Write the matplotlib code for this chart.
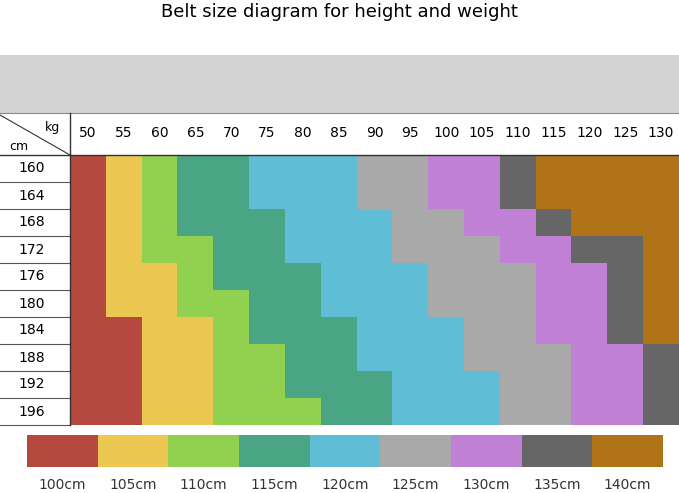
import matplotlib
matplotlib.use("Agg")
import matplotlib.pyplot as plt
import numpy as np
from matplotlib.colors import ListedColormap

weights = [50,55,60,65,70,75,80,85,90,95,100,105,110,115,120,125,130]
heights = [160,164,168,172,176,180,184,188,192,196]
belt_labels = ["100cm","105cm","110cm","115cm","120cm","125cm","130cm","135cm","140cm"]
belt_colors = ["#b5483f","#ecc852","#92d050","#4aa584","#5fbdd6","#a9a9a9","#c080d6","#666666","#b07318"]
# belt size index per (height row, weight column)
size_grid = [
    [0,1,2,3,3,4,4,4,5,5,6,6,7,8,8,8,8],
    [0,1,2,3,3,4,4,4,5,5,6,6,7,8,8,8,8],
    [0,1,2,3,3,3,4,4,4,5,5,6,6,7,8,8,8],
    [0,1,2,2,3,3,4,4,4,5,5,5,6,6,7,7,8],
    [0,1,1,2,3,3,3,4,4,4,5,5,5,6,6,7,8],
    [0,1,1,2,2,3,3,4,4,4,5,5,5,6,6,7,8],
    [0,0,1,1,2,3,3,3,4,4,4,5,5,6,6,7,8],
    [0,0,1,1,2,2,3,3,4,4,4,5,5,5,6,6,7],
    [0,0,1,1,2,2,3,3,3,4,4,4,5,5,6,6,7],
    [0,0,1,1,2,2,2,3,3,4,4,4,5,5,6,6,7],
]

W, H = 679, 493
fig = plt.figure(figsize=(W/100, H/100), dpi=100)
ax = fig.add_axes([0,0,1,1])
ax.set_xlim(0, W); ax.set_ylim(H, 0); ax.axis("off")

fig.text(0.5, 1-12/H, "Belt size diagram for height and weight", ha="center", va="center", fontsize=13)
ax.add_patch(plt.Rectangle((0,55),W,58,color="#d3d3d3",lw=0))

gx0, gx1, gy0, gy1 = 70, 679, 155, 425
cmap = ListedColormap(belt_colors)
ax.imshow(np.array(size_grid), cmap=cmap, vmin=-0.5, vmax=8.5, extent=[gx0,gx1,gy1,gy0],
          aspect="auto", interpolation="nearest")
cw = (gx1-gx0)/len(weights)
rh = (gy1-gy0)/len(heights)
for i, w in enumerate(weights):
    ax.text(gx0+cw*(i+0.5), 133, str(w), ha="center", va="center", fontsize=10)
for j, h in enumerate(heights):
    ax.text(32, gy0+rh*(j+0.5), str(h), ha="center", va="center", fontsize=10)
    ax.plot([0,gx0],[gy0+rh*(j+1)]*2, color="#555555", lw=0.8)
ax.plot([0,gx1],[113,113], color="#888888", lw=0.8)
ax.plot([0,gx1],[gy0,gy0], color="#333333", lw=1)
ax.plot([gx0,gx0],[113,gy1], color="#333333", lw=1)
ax.plot([0,gx0],[115,gy0], color="#333333", lw=0.8)
ax.text(53,127,"kg",ha="center",va="center",fontsize=9)
ax.text(19,147,"cm",ha="center",va="center",fontsize=9)

lx0, lx1 = 27, 663
sw = (lx1-lx0)/len(belt_labels)
for k,(lab,c) in enumerate(zip(belt_labels, belt_colors)):
    ax.add_patch(plt.Rectangle((lx0+k*sw,435),sw,32,color=c,lw=0))
    ax.text(lx0+k*sw+sw/2, 485, lab, ha="center", va="center", fontsize=10, color="#333333")

fig.savefig("out.png", dpi=100)
